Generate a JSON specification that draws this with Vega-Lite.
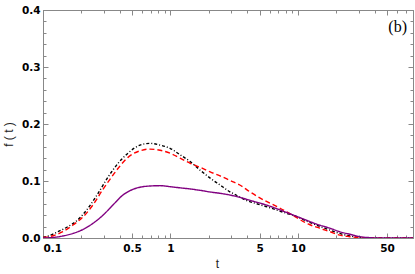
{
  "$schema": "https://vega.github.io/schema/vega-lite/v6.json",
  "width": 370,
  "height": 228,
  "autosize": {"type": "none"},
  "padding": {"left": 43, "top": 10, "right": 2, "bottom": 36},
  "title": {"text": "(b)", "anchor": "end", "frame": "group", "offset": -30, "dx": -6, "font": "Liberation Serif", "fontSize": 16, "fontWeight": "normal", "color": "black"},
  "config": {
    "view": {"stroke": null},
    "axis": {"domainColor": "#888", "tickColor": "#888", "grid": false, "labelFont": "DejaVu Sans", "labelFontWeight": "bold", "labelFontSize": 10.5, "labelColor": "black", "domainWidth": 1, "tickWidth": 1, "labelOverlap": false, "titleFont": "Liberation Sans", "titleFontWeight": "normal", "titleFontSize": 12, "titleColor": "#222"}
  },
  "datasets": {
    "curves": [
      {"t": 0.1, "f": 0.001, "s": "s3black"},
      {"t": 0.11, "f": 0.0035, "s": "s3black"},
      {"t": 0.131, "f": 0.011, "s": "s3black"},
      {"t": 0.157, "f": 0.020, "s": "s3black"},
      {"t": 0.188, "f": 0.032, "s": "s3black"},
      {"t": 0.225, "f": 0.052, "s": "s3black"},
      {"t": 0.27, "f": 0.078, "s": "s3black"},
      {"t": 0.324, "f": 0.107, "s": "s3black"},
      {"t": 0.388, "f": 0.131, "s": "s3black"},
      {"t": 0.465, "f": 0.149, "s": "s3black"},
      {"t": 0.577, "f": 0.163, "s": "s3black"},
      {"t": 0.69, "f": 0.166, "s": "s3black"},
      {"t": 0.83, "f": 0.163, "s": "s3black"},
      {"t": 1.0, "f": 0.157, "s": "s3black"},
      {"t": 1.19, "f": 0.146, "s": "s3black"},
      {"t": 1.43, "f": 0.134, "s": "s3black"},
      {"t": 1.71, "f": 0.119, "s": "s3black"},
      {"t": 2.05, "f": 0.105, "s": "s3black"},
      {"t": 2.45, "f": 0.093, "s": "s3black"},
      {"t": 2.93, "f": 0.081, "s": "s3black"},
      {"t": 3.3, "f": 0.075, "s": "s3black"},
      {"t": 3.84, "f": 0.067, "s": "s3black"},
      {"t": 4.6, "f": 0.061, "s": "s3black"},
      {"t": 5.86, "f": 0.054, "s": "s3black"},
      {"t": 7.46, "f": 0.046, "s": "s3black"},
      {"t": 9.5, "f": 0.0386, "s": "s3black"},
      {"t": 12, "f": 0.0287, "s": "s3black"},
      {"t": 15, "f": 0.020, "s": "s3black"},
      {"t": 18, "f": 0.0135, "s": "s3black"},
      {"t": 21.3, "f": 0.008, "s": "s3black"},
      {"t": 25.6, "f": 0.0035, "s": "s3black"},
      {"t": 30.7, "f": 0.001, "s": "s3black"},
      {"t": 40, "f": 0, "s": "s3black"},
      {"t": 80, "f": 0, "s": "s3black"},

      {"t": 0.1, "f": 0.001, "s": "s2red"},
      {"t": 0.12, "f": 0.004, "s": "s2red"},
      {"t": 0.143, "f": 0.011, "s": "s2red"},
      {"t": 0.172, "f": 0.0228, "s": "s2red"},
      {"t": 0.206, "f": 0.037, "s": "s2red"},
      {"t": 0.2465, "f": 0.058, "s": "s2red"},
      {"t": 0.2955, "f": 0.0854, "s": "s2red"},
      {"t": 0.333, "f": 0.102, "s": "s2red"},
      {"t": 0.3876, "f": 0.122, "s": "s2red"},
      {"t": 0.4645, "f": 0.1415, "s": "s2red"},
      {"t": 0.577, "f": 0.153, "s": "s2red"},
      {"t": 0.69, "f": 0.156, "s": "s2red"},
      {"t": 0.83, "f": 0.154, "s": "s2red"},
      {"t": 1.0, "f": 0.1486, "s": "s2red"},
      {"t": 1.19, "f": 0.140, "s": "s2red"},
      {"t": 1.43, "f": 0.131, "s": "s2red"},
      {"t": 1.71, "f": 0.124, "s": "s2red"},
      {"t": 2.05, "f": 0.116, "s": "s2red"},
      {"t": 2.45, "f": 0.109, "s": "s2red"},
      {"t": 2.93, "f": 0.101, "s": "s2red"},
      {"t": 3.5, "f": 0.093, "s": "s2red"},
      {"t": 4.2, "f": 0.081, "s": "s2red"},
      {"t": 5.5, "f": 0.0655, "s": "s2red"},
      {"t": 7.0, "f": 0.054, "s": "s2red"},
      {"t": 9.5, "f": 0.0374, "s": "s2red"},
      {"t": 12, "f": 0.0246, "s": "s2red"},
      {"t": 14.9, "f": 0.017, "s": "s2red"},
      {"t": 17.9, "f": 0.011, "s": "s2red"},
      {"t": 21.3, "f": 0.005, "s": "s2red"},
      {"t": 25.6, "f": 0.0023, "s": "s2red"},
      {"t": 30.7, "f": 0.0006, "s": "s2red"},
      {"t": 36.7, "f": 0, "s": "s2red"},
      {"t": 80, "f": 0, "s": "s2red"},

      {"t": 0.1, "f": 0.0, "s": "s1purple"},
      {"t": 0.12, "f": 0.001, "s": "s1purple"},
      {"t": 0.143, "f": 0.0035, "s": "s1purple"},
      {"t": 0.172, "f": 0.008, "s": "s1purple"},
      {"t": 0.206, "f": 0.015, "s": "s1purple"},
      {"t": 0.2465, "f": 0.0257, "s": "s1purple"},
      {"t": 0.2955, "f": 0.040, "s": "s1purple"},
      {"t": 0.354, "f": 0.058, "s": "s1purple"},
      {"t": 0.424, "f": 0.0754, "s": "s1purple"},
      {"t": 0.508, "f": 0.0854, "s": "s1purple"},
      {"t": 0.608, "f": 0.090, "s": "s1purple"},
      {"t": 0.69, "f": 0.0912, "s": "s1purple"},
      {"t": 0.83, "f": 0.0918, "s": "s1purple"},
      {"t": 1.0, "f": 0.090, "s": "s1purple"},
      {"t": 1.19, "f": 0.088, "s": "s1purple"},
      {"t": 1.43, "f": 0.086, "s": "s1purple"},
      {"t": 1.71, "f": 0.0836, "s": "s1purple"},
      {"t": 2.05, "f": 0.0807, "s": "s1purple"},
      {"t": 2.45, "f": 0.0784, "s": "s1purple"},
      {"t": 2.93, "f": 0.0754, "s": "s1purple"},
      {"t": 3.5, "f": 0.0713, "s": "s1purple"},
      {"t": 4.3, "f": 0.0655, "s": "s1purple"},
      {"t": 5.86, "f": 0.0567, "s": "s1purple"},
      {"t": 7.9, "f": 0.046, "s": "s1purple"},
      {"t": 10.7, "f": 0.0345, "s": "s1purple"},
      {"t": 14.4, "f": 0.0235, "s": "s1purple"},
      {"t": 17.9, "f": 0.017, "s": "s1purple"},
      {"t": 21.3, "f": 0.011, "s": "s1purple"},
      {"t": 25.6, "f": 0.0065, "s": "s1purple"},
      {"t": 30.7, "f": 0.0023, "s": "s1purple"},
      {"t": 36.7, "f": 0.0006, "s": "s1purple"},
      {"t": 44, "f": 0, "s": "s1purple"},
      {"t": 80, "f": 0, "s": "s1purple"}
    ]
  },
  "data": {"name": "curves"},
  "layer": [
    {
      "mark": {"type": "line", "interpolate": "monotone", "strokeWidth": 1.4, "clip": true},
      "encoding": {
        "x": {"field": "t", "type": "quantitative", "scale": {"type": "log", "domain": [0.1, 80], "nice": false},
              "axis": {"orient": "bottom", "values": [0.1, 0.5, 1, 5, 10, 50], "format": "~g", "tickSize": -5, "labelPadding": 10, "title": "t", "titleX": 174, "titleY": 29, "titleBaseline": "alphabetic", "titleAlign": "center"}},
        "y": {"field": "f", "type": "quantitative", "scale": {"domain": [0, 0.4], "nice": false},
              "axis": {"orient": "left", "values": [0, 0.1, 0.2, 0.3, 0.4], "format": ".1f", "tickSize": -5, "labelPadding": 8, "title": "f ( t )", "titleX": -31, "titleY": 124, "titleAngle": -90, "titleBaseline": "alphabetic", "titleAlign": "center"}},
        "color": {"field": "s", "type": "nominal", "legend": null, "scale": {"domain": ["s1purple", "s2red", "s3black"], "range": ["#800080", "#ff0000", "#000000"]}},
        "strokeDash": {"field": "s", "type": "nominal", "legend": null, "scale": {"domain": ["s1purple", "s2red", "s3black"], "range": [[1, 0], [5, 3], [3, 2, 1, 2]]}}
      }
    },
    {
      "mark": {"type": "point", "opacity": 0},
      "encoding": {
        "x": {"field": "t", "type": "quantitative", "axis": {"orient": "bottom", "values": [0.2, 0.3, 0.4, 0.6, 0.7, 0.8, 0.9, 2, 3, 4, 6, 7, 8, 9, 20, 30, 40, 60, 70, 80], "labels": false, "tickSize": -3, "title": null}},
        "y": {"field": "f", "type": "quantitative", "axis": {"orient": "left", "values": [0.02, 0.04, 0.06, 0.08, 0.12, 0.14, 0.16, 0.18, 0.22, 0.24, 0.26, 0.28, 0.32, 0.34, 0.36, 0.38], "labels": false, "tickSize": -3, "title": null}}
      }
    },
    {
      "mark": {"type": "point", "opacity": 0},
      "encoding": {
        "x": {"field": "t", "type": "quantitative", "axis": {"orient": "top", "values": [0.1, 0.5, 1, 5, 10, 50], "labels": false, "tickSize": -5, "title": null}},
        "y": {"field": "f", "type": "quantitative", "axis": {"orient": "right", "values": [0, 0.1, 0.2, 0.3, 0.4], "labels": false, "tickSize": -5, "title": null}}
      }
    },
    {
      "mark": {"type": "point", "opacity": 0},
      "encoding": {
        "x": {"field": "t", "type": "quantitative", "axis": {"orient": "top", "values": [0.2, 0.3, 0.4, 0.6, 0.7, 0.8, 0.9, 2, 3, 4, 6, 7, 8, 9, 20, 30, 40, 60, 70, 80], "labels": false, "tickSize": -3, "title": null}},
        "y": {"field": "f", "type": "quantitative", "axis": {"orient": "right", "values": [0.02, 0.04, 0.06, 0.08, 0.12, 0.14, 0.16, 0.18, 0.22, 0.24, 0.26, 0.28, 0.32, 0.34, 0.36, 0.38], "labels": false, "tickSize": -3, "title": null}}
      }
    }
  ],
  "resolve": {"axis": {"x": "independent", "y": "independent"}}
}
